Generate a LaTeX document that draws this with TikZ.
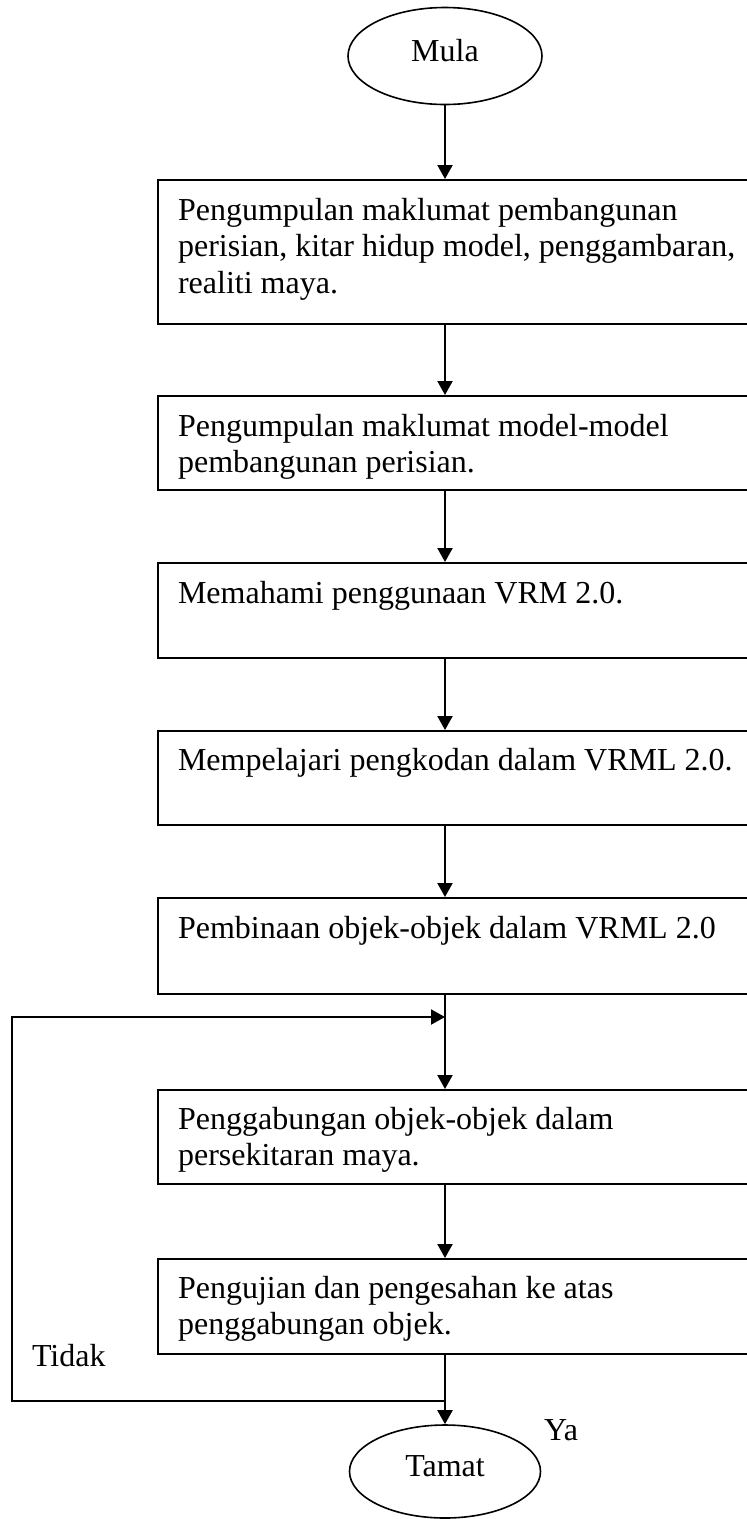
\documentclass[tikz,border=0pt]{standalone}
\usepackage{fontspec}
\setmainfont{Liberation Serif}
\usetikzlibrary{arrows.meta,shapes.geometric}
\begin{document}
\begin{tikzpicture}[x=1pt,y=-1pt,
  line width=2.1pt,
  box/.style={draw, rectangle, anchor=north west, minimum width=620pt, inner sep=0pt},
  txt/.style={anchor=north west, align=left, inner sep=0pt, font=\fontsize{32}{36.5}\selectfont},
  term/.style={draw, ellipse, inner sep=0pt, line width=1.6pt, font=\fontsize{32}{36.5}\selectfont, text depth=11pt},
  arr/.style={-{Triangle[length=14pt,width=15pt]}},
  lbl/.style={anchor=base west, inner sep=0pt, font=\fontsize{32}{36.5}\selectfont}
]
\useasboundingbox (0,0) rectangle (747,1519);
\clip (0,0) rectangle (747,1519);
\coordinate (ax) at (445,0);

\node[term, minimum width=194pt, minimum height=97pt] (mula) at (445,56) {Mula};

\node[box, minimum height=144pt] (b1) at (157,179) {};
\node[txt] (t1) at (177,197) {Pengumpulan maklumat pembangunan\\perisian, kitar hidup model, penggambaran,\\realiti maya.};

\node[box, minimum height=94pt] (b2) at (157,395) {};
\node[txt] (t2) at (177,413) {Pengumpulan maklumat model-model\\pembangunan perisian.};

\node[box, minimum height=95pt] (b3) at (157,562) {};
\node[txt] (t3) at (177,580) {Memahami penggunaan VRM 2.0.};

\node[box, minimum height=94pt] (b4) at (157,730) {};
\node[txt] (t4) at (177,747) {Mempelajari pengkodan dalam VRML 2.0.};

\node[box, minimum height=96pt] (b5) at (157,897) {};
\node[txt] (t5) at (177,915) {Pembinaan objek-objek dalam VRML 2.0};

\node[box, minimum height=94pt] (b6) at (157,1089) {};
\node[txt] (t6) at (177,1106) {Penggabungan objek-objek dalam\\persekitaran maya.};

\node[box, minimum height=95pt] (b7) at (157,1258) {};
\node[txt] (t7) at (177,1275) {Pengujian dan pengesahan ke atas\\penggabungan objek.};

\node[term, minimum width=191pt, minimum height=93pt] (tamat) at (445,1471.5) {Tamat};

\node[lbl] (tidak) at (31,1366) {Tidak};
\node[lbl] (ya) at (543,1440) {Ya};

\coordinate (jt) at (445,1017);
\coordinate (jb) at (445,1401);
\coordinate (lt) at (12,1017);
\coordinate (lb) at (12,1401);

\draw[arr] (mula.south) -- (b1.north -| ax);
\draw[arr] (b1.south -| ax) -- (b2.north -| ax);
\draw[arr] (b2.south -| ax) -- (b3.north -| ax);
\draw[arr] (b3.south -| ax) -- (b4.north -| ax);
\draw[arr] (b4.south -| ax) -- (b5.north -| ax);
\draw[arr] (b5.south -| ax) -- (b6.north -| ax);
\draw[arr] (b6.south -| ax) -- (b7.north -| ax);
\draw[arr] (b7.south -| ax) -- (tamat.north);
\draw[arr] (jb) -- (lb) -- (lt) -- (jt);
\end{tikzpicture}
\end{document}
